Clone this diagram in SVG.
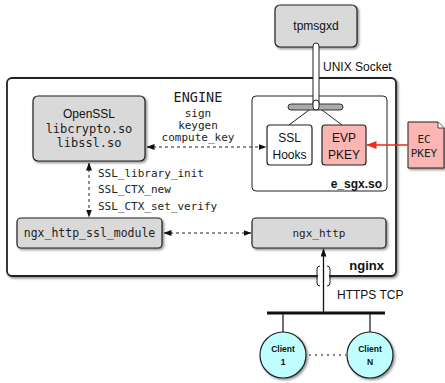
<svg xmlns="http://www.w3.org/2000/svg" width="445" height="383" viewBox="0 0 445 383">
<style>
.sans{font-family:"Liberation Sans",Arial,sans-serif;font-size:12px;fill:#111}
.bold{font-family:"Liberation Sans",Arial,sans-serif;font-weight:bold;fill:#111}
.mono{font-family:"DejaVu Sans Mono",monospace;fill:#222}
.box{stroke:#222;stroke-width:1.2}
.gray{fill:#d9d9d9}
.dash{stroke:#222;stroke-width:1;stroke-dasharray:3,3;fill:none}
.mid{text-anchor:middle}
</style>
<defs>
<filter id="sh" x="-10%" y="-10%" width="130%" height="130%">
<feDropShadow dx="1.5" dy="1.5" stdDeviation="0.8" flood-color="#000" flood-opacity="0.45"/>
</filter>
<marker id="ah" viewBox="0 0 8 6" refX="7.5" refY="3" markerWidth="8" markerHeight="6" markerUnits="userSpaceOnUse" orient="auto-start-reverse">
<path d="M0,0 L8,3 L0,6 z" fill="#111"/>
</marker>
<marker id="ar" viewBox="0 0 10 8" refX="9.5" refY="4" markerWidth="10" markerHeight="8" markerUnits="userSpaceOnUse" orient="auto">
<path d="M0,0 L10,4 L0,8 z" fill="#f02a10"/>
</marker>
</defs>

<g id="nginx">
<rect x="7" y="78" width="389" height="198" rx="5" fill="#fff" stroke="#222" stroke-width="1.8" filter="url(#sh)"/>
<text class="bold" x="384" y="270" font-size="13" text-anchor="end">nginx</text>
</g>

<g id="tpmsgxd">
<rect class="box gray" x="275" y="5" width="82" height="42" rx="5" filter="url(#sh)"/>
<text class="sans mid" x="316" y="30">tpmsgxd</text>
</g>

<g id="engine-label">
<text class="mono mid" x="198" y="102" font-size="13.5">ENGINE</text>
<text class="mono mid" x="198" y="117" font-size="11">sign</text>
<text class="mono mid" x="198" y="129" font-size="11">keygen</text>
<text class="mono mid" x="198" y="141" font-size="11">compute_key</text>
</g>

<g id="openssl">
<rect class="box gray" x="33" y="96" width="112" height="65" rx="5" filter="url(#sh)"/>
<text class="sans mid" x="89" y="118">OpenSSL</text>
<text class="mono mid" x="89" y="133" font-size="12">libcrypto.so</text>
<text class="mono mid" x="89" y="147" font-size="12">libssl.so</text>
</g>

<g id="e_sgx">
<rect x="252" y="96" width="135" height="95" rx="4" fill="#fff" stroke="#222" stroke-width="1"/>
<text class="bold" x="382" y="188" font-size="12" text-anchor="end">e_sgx.so</text>
</g>

<g id="ssl-hooks">
<rect class="box" x="267" y="125" width="45" height="40" rx="3" fill="#fff"/>
<text class="sans mid" x="289.5" y="142">SSL</text>
<text class="sans mid" x="289.5" y="159">Hooks</text>
</g>

<g id="evp-pkey">
<rect class="box" x="322" y="125" width="44" height="40" rx="3" fill="#fbb6b4"/>
<text class="sans mid" x="344" y="142">EVP</text>
<text class="sans mid" x="344" y="159">PKEY</text>
</g>

<g id="ec-pkey">
<path d="M408,122 H438 L444,128 V168 H408 Z" fill="#fbb6b4" stroke="#222" stroke-width="1" filter="url(#sh)"/>
<path d="M438,122 V128 H444" fill="#fff" stroke="#222" stroke-width="0.8"/>
<text class="mono mid" x="424" y="143" font-size="11">EC</text>
<text class="mono mid" x="424" y="157" font-size="11">PKEY</text>
</g>

<g id="ngx_http_ssl_module">
<rect class="box gray" x="17" y="218" width="145" height="30" rx="4" filter="url(#sh)"/>
<text class="mono mid" x="89.5" y="237" font-size="11.5">ngx_http_ssl_module</text>
</g>

<g id="ngx_http">
<rect class="box gray" x="252" y="218" width="134" height="30" rx="4" filter="url(#sh)"/>
<text class="mono mid" x="319" y="237" font-size="11">ngx_http</text>
</g>

<g id="client1">
<circle cx="283" cy="355" r="23" fill="#bfffff" stroke="#222" stroke-width="1.2" filter="url(#sh)"/>
<text class="bold mid" x="283" y="352" font-size="8.5">Client</text>
<text class="bold mid" x="283" y="365" font-size="8.5">1</text>
</g>

<g id="clientN">
<circle cx="370" cy="355" r="23" fill="#bfffff" stroke="#222" stroke-width="1.2" filter="url(#sh)"/>
<text class="bold mid" x="370" y="352" font-size="8.5">Client</text>
<text class="bold mid" x="370" y="365" font-size="8.5">N</text>
</g>

<g id="connectors">
<rect x="313" y="43" width="6" height="66" rx="3" fill="#fff" stroke="#222" stroke-width="1"/>
<rect x="288" y="104" width="55" height="6" rx="3" fill="#aaa" stroke="#333" stroke-width="1"/>
<rect x="313" y="100" width="6" height="10" rx="3" fill="#fff" stroke="#222" stroke-width="1"/>
<line x1="309" y1="110" x2="289" y2="125" stroke="#222" stroke-width="1"/>
<line x1="322" y1="110" x2="342" y2="125" stroke="#222" stroke-width="1"/>
<text class="sans" x="323" y="71">UNIX Socket</text>

<line class="dash" x1="147" y1="147" x2="266" y2="147" marker-start="url(#ah)" marker-end="url(#ah)"/>
<line class="dash" x1="89" y1="163" x2="89" y2="217" marker-start="url(#ah)" marker-end="url(#ah)"/>
<text class="mono" x="98" y="177" font-size="11">SSL_library_init</text>
<text class="mono" x="98" y="193" font-size="11">SSL_CTX_new</text>
<text class="mono" x="98" y="210" font-size="11">SSL_CTX_set_verify</text>
<line class="dash" x1="164" y1="233" x2="251" y2="233" marker-start="url(#ah)" marker-end="url(#ah)"/>

<line x1="408" y1="145" x2="367" y2="145" stroke="#f02a10" stroke-width="1.5" marker-end="url(#ar)"/>

<rect x="318" y="272" width="11" height="9" fill="#fff"/>
<path d="M320,266 Q317,266 317,269 V283 Q317,286 320,286" fill="none" stroke="#222" stroke-width="1"/>
<path d="M327,266 Q330,266 330,269 V283 Q330,286 327,286" fill="none" stroke="#222" stroke-width="1"/>
<line x1="323.5" y1="313" x2="323.5" y2="249" stroke="#111" stroke-width="1.3" marker-end="url(#ah)"/>
<text class="sans" x="337" y="299">HTTPS TCP</text>

<line x1="267" y1="313" x2="385" y2="313" stroke="#111" stroke-width="3"/>
<line x1="283" y1="313" x2="283" y2="332" stroke="#111" stroke-width="1.2"/>
<line x1="370" y1="313" x2="370" y2="332" stroke="#111" stroke-width="1.2"/>
<line x1="309" y1="355" x2="346" y2="355" stroke="#111" stroke-width="1" stroke-dasharray="2,4"/>
</g>
</svg>
